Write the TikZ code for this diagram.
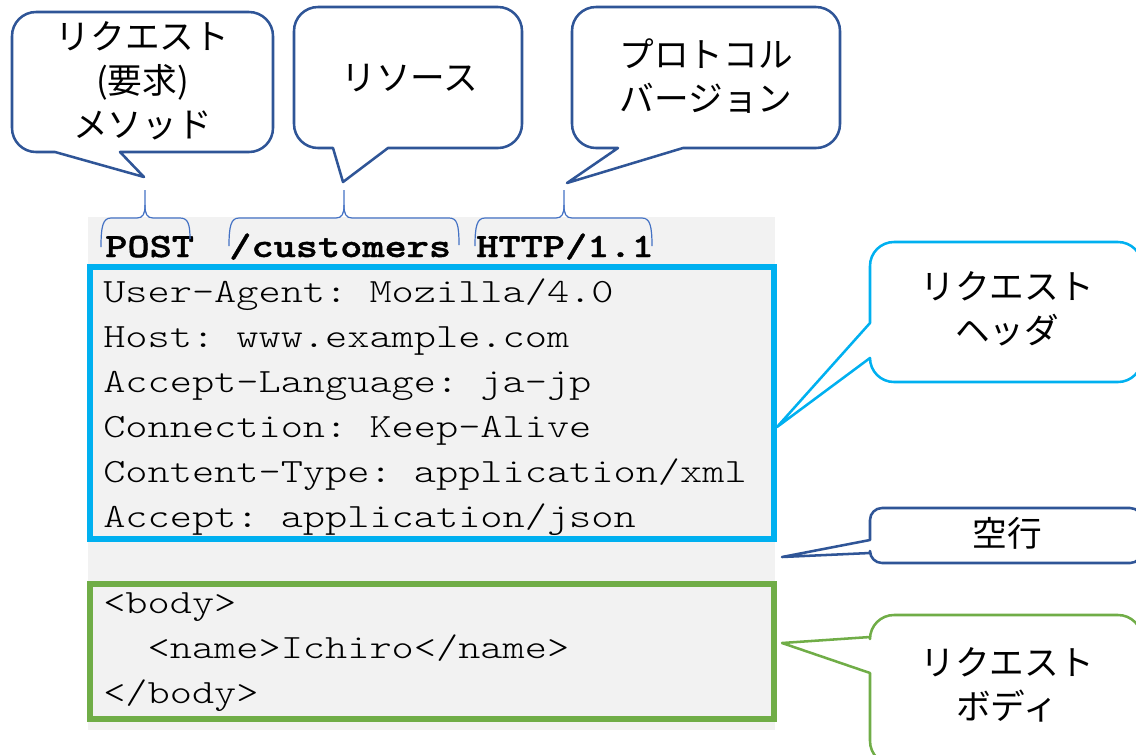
\documentclass[tikz,border=0pt]{standalone}
\usepackage{fontspec}
\setmonofont{lmmonolt10-regular.otf}[BoldFont=lmmonolt10-bold.otf, BoldFeatures={FakeBold=1.2}, FakeStretch=1.243]
\newfontfamily\jpfont{Noto Sans CJK JP}
\definecolor{calloutblue}{HTML}{2F5597}
\definecolor{headercyan}{HTML}{00B0F0}
\definecolor{bodygreen}{HTML}{70AD47}
\definecolor{bracecolor}{HTML}{4472C4}
\definecolor{codebg}{HTML}{F2F2F2}

\begin{document}
\begin{tikzpicture}[x=0.75pt,y=0.75pt,
  codeline/.style={anchor=base west, inner sep=0, font=\ttfamily\fontsize{25.5}{33}\selectfont},
  codebold/.style={codeline, font=\ttfamily\bfseries\fontsize{25.5}{33}\selectfont},
  jptext/.style={inner sep=0, align=center, font=\jpfont\fontsize{26}{33}\selectfont},
  bubble/.style={line width=1.9pt, fill=white, line join=round},
  bracket/.style={draw=bracecolor, line width=0.9pt},
  boxframe/.style={line width=4.5pt}]
\useasboundingbox (0,0) rectangle (1136,-754);
\clip (0,0) rectangle (1136,-754);

% request message background
\fill[codebg] (88,-217) rectangle (775,-730);

% request line
\node[codebold] (method)   at (105,-257) {POST};
\node[codebold] (resource) at (229,-257) {/customers};
\node[codebold] (version)  at (476,-257) {HTTP/1.1};

% header lines
\node[codeline] (h1) at (103,-302) {User-Agent: Mozilla/4.0};
\node[codeline] (h2) at (103,-347) {Host: www.example.com};
\node[codeline] (h3) at (103,-392) {Accept-Language: ja-jp};
\node[codeline] (h4) at (103,-437) {Connection: Keep-Alive};
\node[codeline] (h5) at (103,-482) {Content-Type: application/xml};
\node[codeline] (h6) at (103,-527) {Accept: application/json};

% body lines
\node[codeline] (b1) at (103,-613) {<body>};
\node[codeline] (b2) at (103,-658) {\ \ <name>Ichiro</name>};
\node[codeline] (b3) at (103,-703) {</body>};

% frames around header and body
\draw[boxframe, draw=headercyan] (90,-266.5) rectangle (774,-538.5);
\draw[boxframe, draw=bodygreen] (90,-584) rectangle (774,-719);

% braces over the request line
\coordinate (tipM) at (145,-190);
\coordinate (tipR) at (344,-190);
\coordinate (tipV) at (564,-190);
\draw[bracket] (101,-247) .. controls (101,-226) and (103,-218) .. (111,-218) -- (137,-218)
  .. controls (143,-218) and (145,-214) .. (145,-205) -- (tipM);
\draw[bracket] (190,-239) .. controls (190,-224) and (188,-218) .. (180,-218) -- (153,-218)
  .. controls (147,-218) and (145,-214) .. (145,-205);
\draw[bracket] (229,-246) .. controls (229,-226) and (231,-218) .. (239,-218) -- (336,-218)
  .. controls (342,-218) and (344,-214) .. (344,-205) -- (tipR);
\draw[bracket] (459,-245) .. controls (459,-224) and (457,-218) .. (449,-218) -- (352,-218)
  .. controls (346,-218) and (344,-214) .. (344,-205);
\draw[bracket] (475,-246) .. controls (475,-226) and (477,-218) .. (485,-218) -- (556,-218)
  .. controls (562,-218) and (564,-214) .. (564,-205) -- (tipV);
\draw[bracket] (652,-246) .. controls (652,-226) and (650,-218) .. (642,-218) -- (572,-218)
  .. controls (566,-218) and (564,-214) .. (564,-205);

% callouts above the request line
\draw[bubble, draw=calloutblue] (12,-36) arc[start angle=180,end angle=90,radius=24]
  -- (249,-12) arc[start angle=90,end angle=0,radius=24]
  -- (273,-128) arc[start angle=0,end angle=-90,radius=24]
  -- (120,-152) -- (144,-177) -- (55,-152)
  -- (36,-152) arc[start angle=270,end angle=180,radius=24] -- cycle;
\node[jptext] (methodlabel) at (142.5,-81) {リクエスト\\(要求)\\メソッド};

\draw[bubble, draw=calloutblue] (294,-31) arc[start angle=180,end angle=90,radius=24]
  -- (498,-7) arc[start angle=90,end angle=0,radius=24]
  -- (522,-124) arc[start angle=0,end angle=-90,radius=24]
  -- (388,-148) -- (343,-182) -- (333,-148)
  -- (318,-148) arc[start angle=270,end angle=180,radius=24] -- cycle;
\node[jptext] (resourcelabel) at (410,-78) {リソース};

\draw[bubble, draw=calloutblue] (572,-31) arc[start angle=180,end angle=90,radius=24]
  -- (816,-7) arc[start angle=90,end angle=0,radius=24]
  -- (840,-124) arc[start angle=0,end angle=-90,radius=24]
  -- (683,-148) -- (567,-183) -- (618,-148)
  -- (596,-148) arc[start angle=270,end angle=180,radius=24] -- cycle;
\node[jptext] (versionlabel) at (706,-76.5) {プロトコル\\バージョン};

% callouts on the right side
\draw[bubble, draw=headercyan] (870,-266) arc[start angle=180,end angle=90,radius=24]
  -- (1118,-242) arc[start angle=90,end angle=0,radius=24]
  -- (1142,-358) arc[start angle=0,end angle=-90,radius=24]
  -- (894,-382) arc[start angle=270,end angle=180,radius=24]
  -- (870,-358) -- (777,-427) -- (870,-323) -- cycle;
\node[jptext] (headerlabel) at (1007,-308.5) {リクエスト\\ヘッダ};

\draw[bubble, draw=calloutblue] (870,-520) arc[start angle=180,end angle=90,radius=12]
  -- (1130,-508) arc[start angle=90,end angle=0,radius=12]
  -- (1142,-551) arc[start angle=0,end angle=-90,radius=12]
  -- (882,-563) arc[start angle=270,end angle=180,radius=12]
  -- (870,-553) -- (782,-557) -- (870,-540) -- cycle;
\node[jptext] (blanklabel) at (1007,-533) {空行};

\draw[bubble, draw=bodygreen] (870,-639) arc[start angle=180,end angle=90,radius=24]
  -- (1118,-615) arc[start angle=90,end angle=0,radius=24]
  -- (1142,-741) arc[start angle=0,end angle=-90,radius=24]
  -- (894,-765) arc[start angle=270,end angle=180,radius=24]
  -- (870,-673) -- (782,-643) -- (870,-637) -- cycle;
\node[jptext] (bodylabel) at (1007,-684.5) {リクエスト\\ボディ};
\end{tikzpicture}
\end{document}
